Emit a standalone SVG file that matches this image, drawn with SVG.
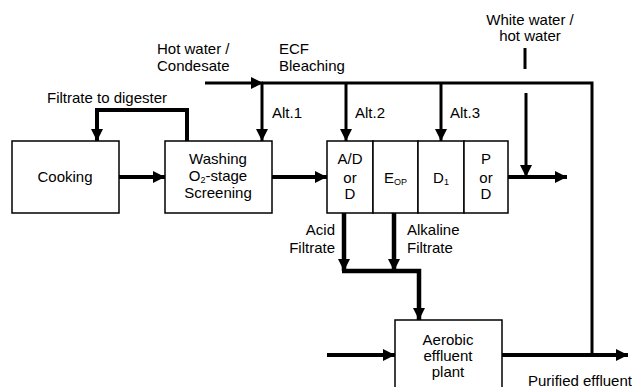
<svg xmlns="http://www.w3.org/2000/svg" width="632" height="387" viewBox="0 0 632 387">
<style>
text{font-family:"Liberation Sans",Arial,sans-serif;font-size:15px;fill:#000}
.c{text-anchor:middle}
.r{text-anchor:end}
.box{fill:#fff;stroke:#000;stroke-width:1.5}
.ln{fill:none;stroke:#000;stroke-linejoin:miter;stroke-linecap:butt}
.w3{stroke-width:3}
.w4{stroke-width:4}
.w5{stroke-width:4.5}
.sub{font-size:9px}
</style>
<defs>
<marker id="ah" markerUnits="userSpaceOnUse" markerWidth="12" markerHeight="12" refX="12" refY="6" orient="auto">
<path d="M0,0 L12,6 L0,12 z" fill="#000"/>
</marker>
</defs>
<g id="connectors">
<path class="ln w4" d="M187,141 V110 H97 V141" marker-end="url(#ah)"/>
<path class="ln w4" d="M119,177 H165" marker-end="url(#ah)"/>
<path class="ln w3" d="M205,83 H263" marker-end="url(#ah)"/>
<path class="ln w3" d="M262,83 H592 V355"/>
<path class="ln w3" d="M262,83 V141" marker-end="url(#ah)"/>
<path class="ln w3" d="M346,83 V141" marker-end="url(#ah)"/>
<path class="ln w3" d="M441,83 V141" marker-end="url(#ah)"/>
<path class="ln w4" d="M272,177 H327" marker-end="url(#ah)"/>
<path class="ln w3" d="M525,48 V69"/>
<path class="ln w3" d="M526,93 V177" marker-end="url(#ah)"/>
<path class="ln w4" d="M508,177 H567" marker-end="url(#ah)"/>
<path class="ln w5" d="M344,213 V271" marker-end="url(#ah)"/>
<path class="ln w5" d="M394,213 V271" marker-end="url(#ah)"/>
<path class="ln w5" d="M342,271 H419 V320" marker-end="url(#ah)"/>
<path class="ln w4" d="M327,355 H395" marker-end="url(#ah)"/>
<path class="ln w4" d="M502,355 H628" marker-end="url(#ah)"/>
</g>
<g id="labels">
<text x="47" y="103">Filtrate to digester</text>
<text x="157" y="54">Hot water /</text>
<text x="157" y="71">Condesate</text>
<text x="279" y="54">ECF</text>
<text x="279" y="71">Bleaching</text>
<text class="c" x="530" y="25">White water /</text>
<text class="c" x="530" y="41">hot water</text>
<text x="272" y="118">Alt.1</text>
<text x="355" y="118">Alt.2</text>
<text x="450" y="118">Alt.3</text>
<text class="r" x="335" y="235">Acid</text>
<text class="r" x="335" y="253">Filtrate</text>
<text x="407" y="235">Alkaline</text>
<text x="407" y="253">Filtrate</text>
<text x="528" y="386">Purified effluent</text>
</g>
<g id="cooking">
<rect class="box" x="12" y="141" width="107" height="72"/>
<text class="c" x="65" y="182">Cooking</text>
</g>
<g id="washing">
<rect class="box" x="165" y="141" width="107" height="72"/>
<text class="c" x="218" y="164">Washing</text>
<text class="c" x="218" y="181">O<tspan class="sub" dy="2">2</tspan><tspan dy="-2">-stage</tspan></text>
<text class="c" x="218" y="198">Screening</text>
</g>
<g id="stage-ad">
<rect class="box" x="327" y="141" width="46" height="72"/>
<text class="c" x="350" y="164">A/D</text>
<text class="c" x="350" y="183">or</text>
<text class="c" x="350" y="199">D</text>
</g>
<g id="stage-eop">
<rect class="box" x="373" y="141" width="45" height="72"/>
<text class="c" x="395.5" y="183">E<tspan class="sub" dy="2">OP</tspan></text>
</g>
<g id="stage-d1">
<rect class="box" x="418" y="141" width="46" height="72"/>
<text class="c" x="441" y="183">D<tspan class="sub" dy="2">1</tspan></text>
</g>
<g id="stage-p">
<rect class="box" x="464" y="141" width="44" height="72"/>
<text class="c" x="486" y="164">P</text>
<text class="c" x="486" y="183">or</text>
<text class="c" x="486" y="199">D</text>
</g>
<g id="aerobic">
<rect class="box" x="395" y="320" width="107" height="80"/>
<text class="c" x="448" y="345">Aerobic</text>
<text class="c" x="448" y="361">effluent</text>
<text class="c" x="448" y="377">plant</text>
</g>
</svg>
